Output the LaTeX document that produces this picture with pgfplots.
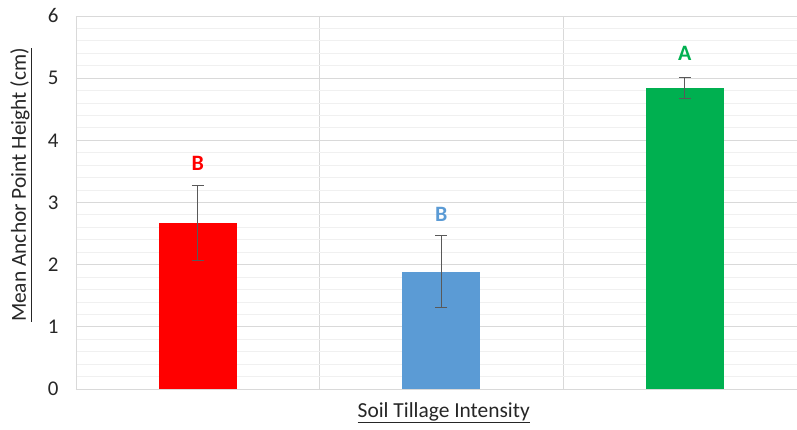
\documentclass[border=0pt]{standalone}
\usepackage{pgfplots}
\pgfplotsset{compat=1.18}
\usepackage{fontspec}
\setmainfont{Carlito}
\definecolor{cred}{HTML}{FF0000}
\definecolor{cblue}{HTML}{5B9BD5}
\definecolor{cgreen}{HTML}{00B050}
\definecolor{gridmaj}{HTML}{D9D9D9}
\definecolor{gridmin}{HTML}{F0F0F0}
\definecolor{errc}{HTML}{595959}
\begin{document}
\begin{tikzpicture}
\begin{axis}[
  at={(0,0)}, anchor=south west,
  scale only axis,
  width=721bp, height=373bp,
  xmin=-0.5, xmax=2.4606,
  ymin=0, ymax=6,
  ytick={0,1,2,3,4,5,6},
  minor y tick num=4,
  xtick={0.5,1.5},
  xticklabels={},
  major tick length=0pt, minor tick length=0pt,
  ymajorgrids, yminorgrids, xmajorgrids,
  major grid style={gridmaj, line width=0.9bp},
  minor grid style={gridmin, line width=0.9bp},
  axis line style={draw=none},
  yticklabel style={font=\fontsize{21}{24}\selectfont, text=black!85, anchor=east, xshift=-14bp},
  /pgf/number format/assume math mode=true,
  clip=false,
]
\draw[gridmaj, line width=0.9bp] (rel axis cs:0,0) -- (rel axis cs:0,1);
\draw[gridmaj, line width=0.9bp] (rel axis cs:0,0) -- (rel axis cs:1,0);
\addplot[ybar, bar width=78bp, fill=cred, draw=none,
  error bars/.cd, y dir=both, y explicit,
  error bar style={errc, line width=1.2bp}, error mark options={rotate=90, mark size=6bp, errc, line width=1.2bp}]
  coordinates {(0,2.67) +- (0,0.60)};
\addplot[ybar, bar width=78bp, fill=cblue, draw=none,
  error bars/.cd, y dir=both, y explicit,
  error bar style={errc, line width=1.2bp}, error mark options={rotate=90, mark size=6bp, errc, line width=1.2bp}]
  coordinates {(1,1.89) +- (0,0.58)};
\addplot[ybar, bar width=78bp, fill=cgreen, draw=none,
  error bars/.cd, y dir=both, y explicit,
  error bar style={errc, line width=1.2bp}, error mark options={rotate=90, mark size=6bp, errc, line width=1.2bp}]
  coordinates {(2,4.84) +- (0,0.17)};
\node[text=cred, font=\fontsize{22}{24}\selectfont\bfseries] at (axis cs:0,3.63) {B};
\node[text=cblue, font=\fontsize{22}{24}\selectfont\bfseries] at (axis cs:1,2.81) {B};
\node[text=cgreen, font=\fontsize{22}{24}\selectfont\bfseries] at (axis cs:2,5.40) {A};
\node[font=\fontsize{21.5}{24}\selectfont, text=black!85] at ([yshift=-24bp]axis cs:1.01,0) {\underline{Soil Tillage Intensity}};
\node[font=\fontsize{21.5}{24}\selectfont, text=black!85, rotate=90] at ([xshift=-55bp]rel axis cs:0,0.547) {\underline{Mean Anchor Point Height (cm)}};
\end{axis}
\pgfresetboundingbox
\useasboundingbox (-76bp,-41bp) rectangle (721bp,389bp);
\end{tikzpicture}
\end{document}
